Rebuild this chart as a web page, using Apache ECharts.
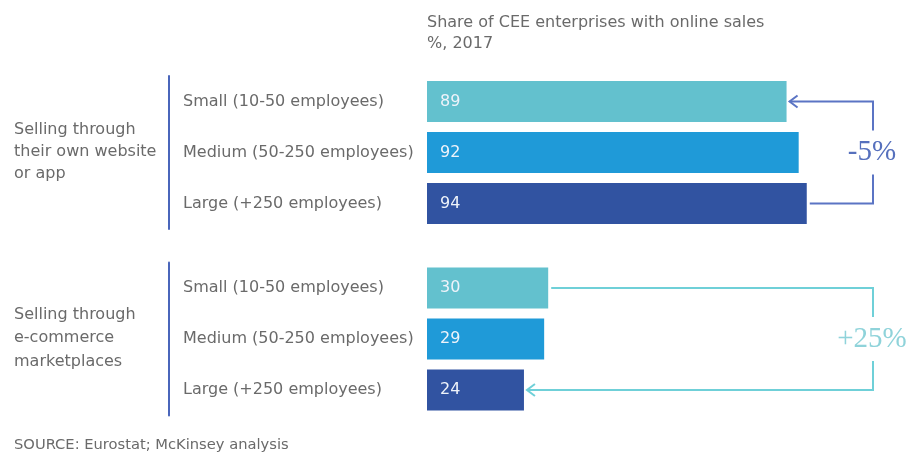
<!DOCTYPE html>
<html>
<head>
<meta charset="utf-8">
<script src="https://cdn.jsdelivr.net/npm/echarts@6/dist/echarts.min.js"></script>
<style>html,body{margin:0;padding:0;background:#fff}#c{width:907px;height:454px}</style>
</head>
<body>
<div id="c"></div>
<script>
const categories = ['Small (10-50 employees)', 'Medium (50-250 employees)', 'Large (+250 employees)'];
const groupLabels = ['Selling through\ntheir own website\nor app', 'Selling through\ne-commerce\nmarketplaces'];
const ownWebsite = [89, 92, 94];
const marketplaces = [30, 29, 24];
const changeLabels = ['-5%', '+25%'];
const header = 'Share of CEE enterprises with online sales\n%, 2017';
const source = 'SOURCE: Eurostat; McKinsey analysis';

const barColors = ['#63c1ce', '#1f9ad8', '#3153a1'];
const FONT = '"DejaVu Sans", sans-serif';
const TXT = '#6a6a6a';

const chart = echarts.init(document.getElementById('c'), null, {renderer: 'canvas'});

function yAx(gi) {
  return {
    type: 'category', gridIndex: gi, data: categories, inverse: true,
    offset: 258,
    axisLine: {show: true, onZero: false, lineStyle: {color: '#4a66bb', width: 2}},
    axisTick: {show: false},
    axisLabel: {align: 'left', margin: -14, color: TXT, fontSize: 16, fontFamily: FONT}
  };
}
function xAx(gi) {
  return {type: 'value', gridIndex: gi, min: 0, max: 100, show: false, splitLine: {show: false}};
}
function ser(gi, vals) {
  return {
    type: 'bar', xAxisIndex: gi, yAxisIndex: gi, barWidth: 41,
    data: vals.map((v, i) => ({value: v, itemStyle: {color: barColors[i]}})),
    label: {show: true, position: 'insideLeft', distance: 13, color: '#eef3fa', fontSize: 16, fontFamily: FONT},
    silent: true, animation: false
  };
}

chart.setOption({
  animation: false,
  title: [
    {text: header, left: 427, top: 12, padding: 0, textStyle: {fontSize: 16, fontWeight: 'normal', color: TXT, fontFamily: FONT, lineHeight: 21}},
    {text: groupLabels[0], left: 14, top: 119, padding: 0, textStyle: {fontSize: 16, fontWeight: 'normal', color: TXT, fontFamily: FONT, lineHeight: 22}},
    {text: groupLabels[1], left: 14, top: 303, padding: 0, textStyle: {fontSize: 16, fontWeight: 'normal', color: TXT, fontFamily: FONT, lineHeight: 23.5}},
    {text: source, left: 14, top: 438, padding: 0, textStyle: {fontSize: 14.7, fontWeight: 'normal', color: TXT, fontFamily: FONT}}
  ],
  grid: [
    {left: 427, right: 76, top: 76, height: 153},
    {left: 427, right: 76, top: 262.5, height: 153}
  ],
  xAxis: [xAx(0), xAx(1)],
  yAxis: [yAx(0), yAx(1)],
  series: [ser(0, ownWebsite), ser(1, marketplaces)]
});

// annotation brackets derived from bar ends
function bracket(si, fromIdx, toIdx, vals, color, labelText, labelColor) {
  const bx = 873;
  const pFrom = chart.convertToPixel({seriesIndex: si}, [vals[fromIdx], fromIdx]);
  const pTo = chart.convertToPixel({seriesIndex: si}, [vals[toIdx], toIdx]);
  const g = 3;
  const midY = (pFrom[1] + pTo[1]) / 2;
  const half = 22;
  const down = pFrom[1] < pTo[1];
  const ls = {stroke: color, lineWidth: 2, fill: null};
  return [
    {type: 'polyline', shape: {points: [[pFrom[0] + g, pFrom[1]], [bx, pFrom[1]], [bx, down ? midY - half : midY + half]]}, style: ls, silent: true},
    {type: 'polyline', shape: {points: [[bx, down ? midY + half : midY - half], [bx, pTo[1]], [pTo[0] + g, pTo[1]]]}, style: ls, silent: true},
    {type: 'polyline', shape: {points: [[pTo[0] + g + 8, pTo[1] - 6], [pTo[0] + g, pTo[1]], [pTo[0] + g + 8, pTo[1] + 6]]}, style: ls, silent: true},
    {type: 'text', x: bx - 1, y: midY, style: {text: labelText, fill: labelColor, font: '29px "Liberation Serif", "DejaVu Serif", serif', align: 'center', verticalAlign: 'middle'}, silent: true}
  ];
}

chart.setOption({
  graphic: [].concat(
    bracket(0, 2, 0, ownWebsite, '#5b74c4', changeLabels[0], '#5670bd'),
    bracket(1, 0, 2, marketplaces, '#6fd0d8', changeLabels[1], '#8fd3da')
  )
});
</script>
</body>
</html>
